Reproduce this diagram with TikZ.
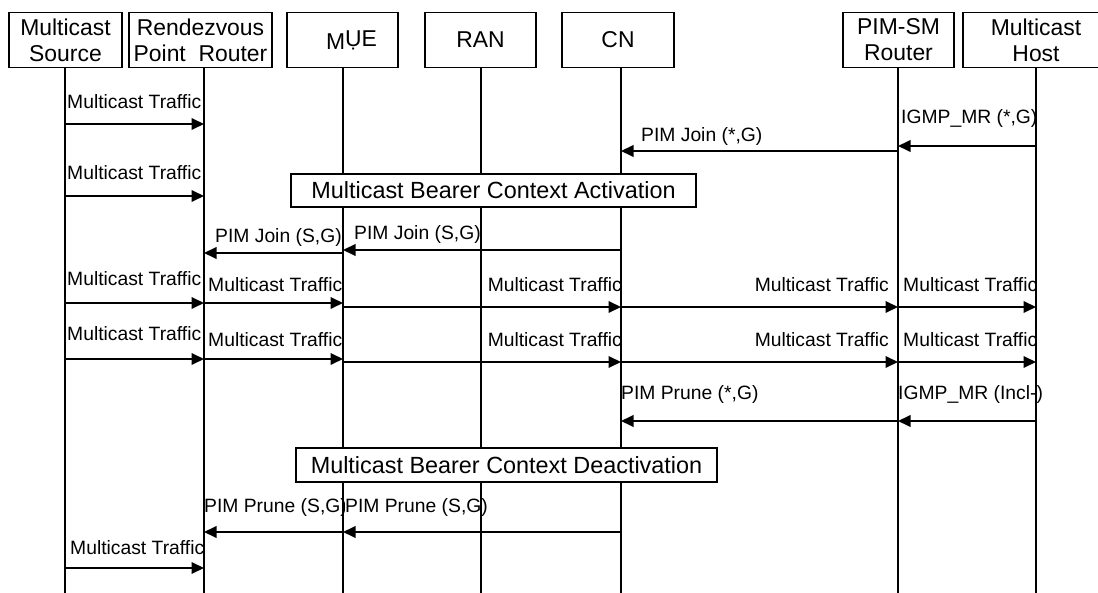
\documentclass[tikz,border=0pt]{standalone}
\usepackage{fontspec}
\setmainfont{Liberation Sans}
\usetikzlibrary{arrows.meta}
\begin{document}
\begin{tikzpicture}[x=1pt,y=-1pt,
  hdr/.style={draw, line width=1.9pt, fill=white, minimum height=55pt, inner sep=0pt, align=center, font=\fontsize{22.9}{26}\selectfont},
  life/.style={line width=1.9pt},
  msg/.style={line width=1.9pt, -{Triangle[length=12.5pt,width=11.5pt]}},
  lbl/.style={inner sep=0pt, font=\fontsize{19.3}{22}\selectfont},
  phase/.style={draw, line width=1.3pt, fill=white, inner sep=0pt, font=\fontsize{23.4}{26}\selectfont}]
\useasboundingbox (0,0) rectangle (1098,593);
\clip (0,0) rectangle (1098,593);

% lifeline coordinates
\coordinate (Lsrc) at (65,67);   \coordinate (Bsrc) at (65,593);
\coordinate (Lrp) at (204,67);   \coordinate (Brp) at (204,593);
\coordinate (Lmue) at (343,67);  \coordinate (Bmue) at (343,593);
\coordinate (Lran) at (481,67);  \coordinate (Bran) at (481,593);
\coordinate (Lcn) at (621,67);   \coordinate (Bcn) at (621,593);
\coordinate (Lpim) at (898,67);  \coordinate (Bpim) at (898,593);
\coordinate (Lhost) at (1036,67);\coordinate (Bhost) at (1036,593);

% labels
\node[lbl, anchor=base west] (l1) at (67,109) {Multicast Traffic};
\node[lbl, anchor=base west] (l2) at (901,124) {IGMP\_MR (*,G)};
\node[lbl, anchor=base west] (l3) at (641,142) {PIM Join (*,G)};
\node[lbl, anchor=base west] (l4) at (67,180) {Multicast Traffic};
\node[lbl, anchor=base west] (l5) at (354,240) {PIM Join (S,G)};
\node[lbl, anchor=base west] (l6) at (215,243) {PIM Join (S,G)};
\node[lbl, anchor=base west] (l7) at (67,286) {Multicast Traffic};
\node[lbl, anchor=base west] (l8) at (208,292) {Multicast Traffic};
\node[lbl, anchor=base east] (l9) at (622,292) {Multicast Traffic};
\node[lbl, anchor=base east] (l10) at (889,292) {Multicast Traffic};
\node[lbl, anchor=base west] (l11) at (903,292) {Multicast Traffic};
\node[lbl, anchor=base west] (l12) at (67,341) {Multicast Traffic};
\node[lbl, anchor=base west] (l13) at (208,347) {Multicast Traffic};
\node[lbl, anchor=base east] (l14) at (622,347) {Multicast Traffic};
\node[lbl, anchor=base east] (l15) at (889,347) {Multicast Traffic};
\node[lbl, anchor=base west] (l16) at (903,347) {Multicast Traffic};
\node[lbl, anchor=base west] (l17) at (898,400) {IGMP\_MR (Incl-)};
\node[lbl, anchor=base west] (l18) at (621,400) {PIM Prune (*,G)};
\node[lbl, anchor=base west] (l19) at (204,512) {PIM Prune (S,G)};
\node[lbl, anchor=base west, fill=white] (l20) at (345,512) {PIM Prune (S,G)};
\node[lbl, anchor=base west] (l21) at (70,554) {Multicast Traffic};

% lifelines
\foreach \n in {src,rp,mue,ran,cn,pim,host}
  \draw[life] (L\n) -- (B\n);

% messages
\draw[msg] (Lsrc |- 0,124) -- (Lrp |- 0,124);
\draw[msg] (Lhost |- 0,146) -- (Lpim |- 0,146);
\draw[msg] (Lpim |- 0,151) -- (Lcn |- 0,151);
\draw[msg] (Lsrc |- 0,196) -- (Lrp |- 0,196);
\draw[msg] (Lcn |- 0,250) -- (Lmue |- 0,250);
\draw[msg] (Lmue |- 0,253) -- (Lrp |- 0,253);
\draw[msg] (Lsrc |- 0,303) -- (Lrp |- 0,303);
\draw[msg] (Lrp |- 0,303) -- (Lmue |- 0,303);
\draw[msg] (Lmue |- 0,307) -- (Lcn |- 0,307);
\draw[msg] (Lcn |- 0,307) -- (Lpim |- 0,307);
\draw[msg] (Lpim |- 0,307) -- (Lhost |- 0,307);
\draw[msg] (Lsrc |- 0,359) -- (Lrp |- 0,359);
\draw[msg] (Lrp |- 0,359) -- (Lmue |- 0,359);
\draw[msg] (Lmue |- 0,362) -- (Lcn |- 0,362);
\draw[msg] (Lcn |- 0,362) -- (Lpim |- 0,362);
\draw[msg] (Lpim |- 0,362) -- (Lhost |- 0,362);
\draw[msg] (Lhost |- 0,421) -- (Lpim |- 0,421);
\draw[msg] (Lpim |- 0,421) -- (Lcn |- 0,421);
\draw[msg] (Lcn |- 0,532) -- (Lmue |- 0,532);
\draw[msg] (Lmue |- 0,532) -- (Lrp |- 0,532);
\draw[msg] (Lsrc |- 0,568) -- (Lrp |- 0,568);

% phase boxes
\node[phase, minimum width=405pt, minimum height=33pt] (act) at (493.5,190.5) {Multicast Bearer Context Activation};
\node[phase, minimum width=421pt, minimum height=34pt] (deact) at (506.5,465) {Multicast Bearer Context Deactivation};

% headers
\node[hdr, minimum width=113pt] (src) at (65.5,40) {Multicast\\Source};
\node[hdr, minimum width=143pt] (rp) at (200.5,40) {Rendezvous\\Point\ \ Router};
\node[hdr, minimum width=111pt] (mue) at (342.5,40) {\hspace*{18pt}M\raisebox{3pt}{ỤE}};
\node[hdr, minimum width=111pt] (ran) at (480.5,40) {RAN};
\node[hdr, minimum width=112pt] (cn) at (618,40) {CN};
\node[hdr, minimum width=111pt] (pim) at (898.5,40) {PIM-SM\\Router};
\node[hdr, minimum width=146pt] (host) at (1036,40) {Multicast\\Host};
\end{tikzpicture}
\end{document}
